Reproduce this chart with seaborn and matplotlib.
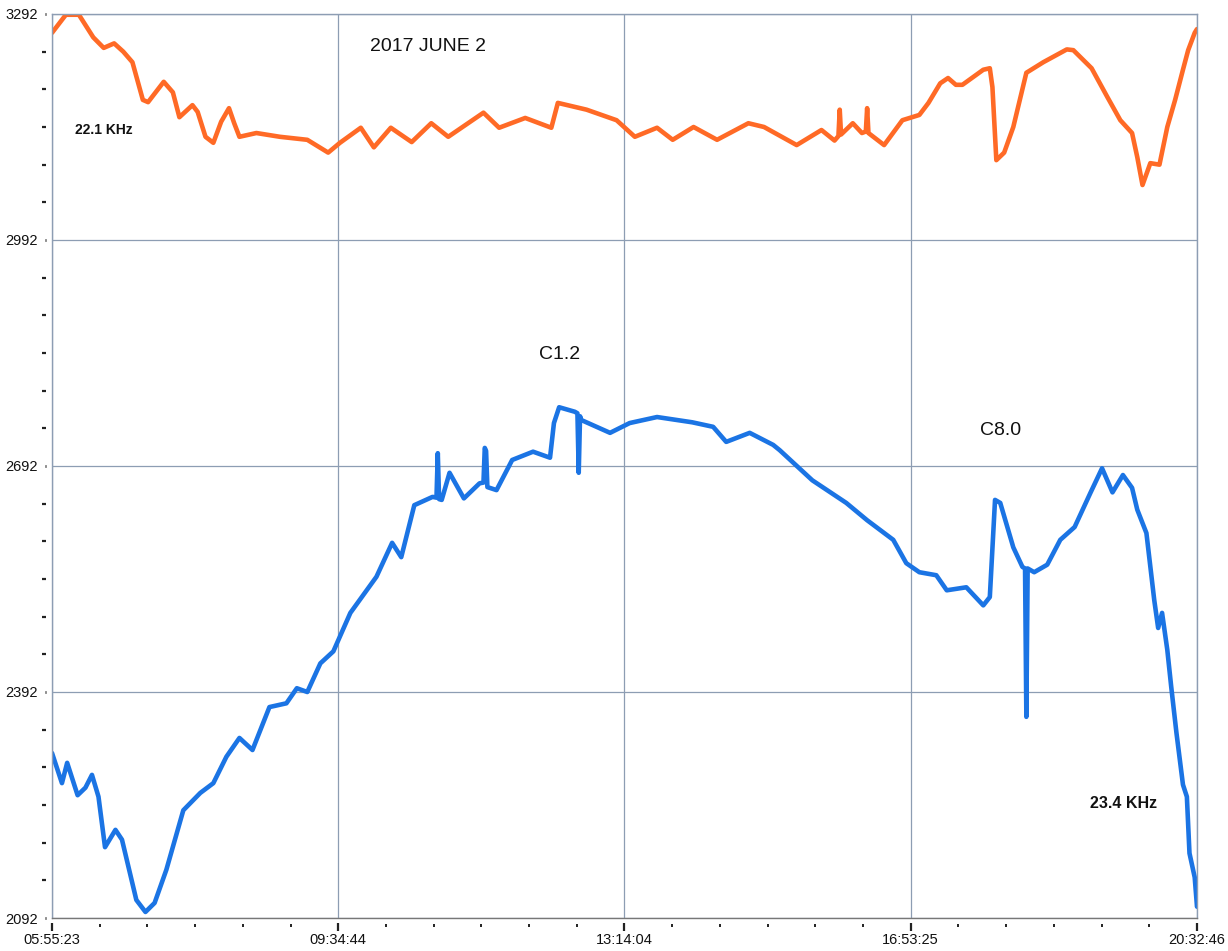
import numpy as np
import pandas as pd
import matplotlib
matplotlib.use("Agg")
import matplotlib.pyplot as plt
import matplotlib.dates as mdates
from matplotlib.markers import MarkerStyle
from matplotlib.path import Path
import seaborn as sns

DAY = "2017-06-02"

# 22.1 kHz VLF signal (upper trace)
t_22 = ["05:55:23", "06:06", "06:16", "06:27", "06:35", "06:43", "06:50", "06:57",
        "07:05", "07:09", "07:21", "07:28", "07:33", "07:43", "07:47", "07:53",
        "07:59", "08:05", "08:11", "08:15", "08:19", "08:32", "08:50", "09:11",
        "09:27", "09:36", "09:52", "10:02", "10:15", "10:31", "10:46", "10:59",
        "11:26", "11:38", "11:58", "12:18", "12:23", "12:45", "13:08", "13:22",
        "13:39", "13:51", "14:07", "14:25", "14:49", "15:01", "15:26", "15:45",
        "15:55", "15:58", "15:59", "16:00", "16:09", "16:16", "16:19", "16:20",
        "16:21", "16:33", "16:47", "17:00", "17:07", "17:16", "17:22", "17:28",
        "17:33", "17:49", "17:54", "17:56", "17:59", "18:05", "18:12", "18:22",
        "18:35", "18:53", "18:58", "19:12", "19:24", "19:34", "19:43", "19:47",
        "19:51", "19:57", "20:04", "20:10", "20:16", "20:22", "20:26", "20:31",
        "20:32:46"]
v_22 = [3267, 3291, 3291, 3261, 3247, 3253, 3242, 3228,
        3178, 3175, 3202, 3188, 3155, 3171, 3162, 3129,
        3121, 3149, 3167, 3147, 3129, 3134, 3129, 3125,
        3108, 3121, 3141, 3115, 3141, 3122, 3147, 3129,
        3161, 3141, 3154, 3141, 3174, 3165, 3151, 3129,
        3141, 3125, 3142, 3125, 3147, 3142, 3118, 3138,
        3124, 3130, 3165, 3132, 3147, 3134, 3136, 3167,
        3134, 3118, 3151, 3158, 3174, 3200, 3207, 3198,
        3198, 3218, 3220, 3195, 3098, 3108, 3142, 3214,
        3228, 3245, 3244, 3220, 3182, 3151, 3134, 3102,
        3065, 3094, 3092, 3142, 3178, 3218, 3244, 3267,
        3272]

# 23.4 kHz VLF signal (lower trace)
t_23 = ["05:55:23", "06:03", "06:07", "06:15", "06:21", "06:26", "06:31", "06:36",
        "06:44", "06:49", "07:00", "07:07", "07:14", "07:23", "07:36", "07:49",
        "07:59", "08:09", "08:19", "08:29", "08:42", "08:55", "09:03", "09:11",
        "09:21", "09:31", "09:44", "10:04", "10:16", "10:23", "10:33", "10:47",
        "10:50", "10:51", "10:52", "10:54", "11:00", "11:11", "11:23", "11:26",
        "11:27", "11:28", "11:29", "11:36", "11:48", "12:04", "12:17", "12:20",
        "12:24", "12:36", "12:38", "12:39", "12:40", "12:41", "13:03", "13:18",
        "13:39", "14:06", "14:22", "14:32", "14:50", "15:08", "15:13", "15:38",
        "16:04", "16:20", "16:40", "16:50", "17:00", "17:13", "17:21", "17:36",
        "17:49", "17:54", "17:58", "18:02", "18:12", "18:19", "18:21", "18:22",
        "18:23", "18:28", "18:38", "18:48", "18:59", "19:11", "19:20", "19:28",
        "19:36", "19:43", "19:47", "19:54", "20:00", "20:03", "20:06", "20:10",
        "20:13", "20:17", "20:22", "20:25", "20:27", "20:31", "20:32:46"]
v_23 = [2311, 2271, 2298, 2255, 2265, 2282, 2253, 2186,
        2209, 2196, 2116, 2100, 2112, 2156, 2235, 2258,
        2271, 2306, 2331, 2315, 2372, 2377, 2397, 2392,
        2430, 2446, 2497, 2545, 2590, 2571, 2640, 2651,
        2650, 2709, 2648, 2647, 2683, 2649, 2669, 2670,
        2716, 2712, 2664, 2660, 2700, 2711, 2703, 2749,
        2770, 2764, 2762, 2683, 2758, 2753, 2736, 2749,
        2757, 2750, 2744, 2724, 2736, 2720, 2713, 2673,
        2643, 2620, 2594, 2563, 2551, 2547, 2527, 2531,
        2507, 2518, 2647, 2643, 2584, 2558, 2556, 2359,
        2556, 2551, 2561, 2594, 2611, 2656, 2689, 2657,
        2680, 2663, 2634, 2603, 2514, 2477, 2497, 2448,
        2399, 2338, 2269, 2253, 2178, 2146, 2107]

y_tick_values = [2092, 2392, 2692, 2992, 3292]
x_tick_labels = ["05:55:23", "09:34:44", "13:14:04", "16:53:25", "20:32:46"]


def stamp(times):
    return [pd.Timestamp(f"{DAY} {t}") for t in times]


df = pd.concat([
    pd.DataFrame({"time": stamp(t_22), "signal": v_22, "band": "22.1 KHz"}),
    pd.DataFrame({"time": stamp(t_23), "signal": v_23, "band": "23.4 KHz"}),
], ignore_index=True)

sns.set_style("white")
plt.rcParams["font.family"] = ["Liberation Sans", "DejaVu Sans"]

fig = plt.figure(figsize=(12.28, 9.51), dpi=100)
ax = fig.add_axes([0.04235, 0.0347, 0.93241, 0.95058])

sns.lineplot(data=df, x="time", y="signal", hue="band",
             palette={"22.1 KHz": "#ff6a26", "23.4 KHz": "#1b74e4"},
             estimator=None, sort=False, lw=3.3, legend=False, ax=ax)
for ln in ax.lines:
    ln.set_solid_joinstyle("round")

# axes ranges and ticks
major_num = mdates.date2num(stamp(x_tick_labels))
minor_num = np.concatenate([np.linspace(a, b, 7)[1:-1]
                            for a, b in zip(major_num[:-1], major_num[1:])])
ax.set_xlim(major_num[0], major_num[-1])
ax.set_xticks(major_num, x_tick_labels)
ax.set_xticks(minor_num, minor=True)
ax.set_ylim(y_tick_values[0], y_tick_values[-1])
ax.set_yticks(y_tick_values, [str(v) for v in y_tick_values])
ax.set_yticks(np.arange(y_tick_values[0], y_tick_values[-1] + 1, 50), minor=True)
ax.set_xlabel("")
ax.set_ylabel("")

ax.grid(which="major", color="#8d9db3", lw=0.9)
ax.grid(which="minor", visible=False)
for side, s in ax.spines.items():
    s.set_visible(True)
    s.set_linewidth(1.0)
    s.set_color("#8d9db3" if side in ("left", "right", "top") else "#777777")

ax.tick_params(axis="both", which="both", length=0, labelsize=10.5,
               labelcolor="#111111")
ax.tick_params(axis="y", pad=10)
ax.tick_params(axis="x", pad=11)

# annotations
ax.text(0.328, 0.9635, "2017 JUNE 2", transform=ax.transAxes, fontsize=14,
        ha="center", va="center", color="#111111")
ax.text(0.0454, 0.8717, "22.1 KHz", transform=ax.transAxes, fontsize=10,
        fontweight="bold", ha="center", va="center", color="#111111")
ax.text(0.4437, 0.6228, "C1.2", transform=ax.transAxes, fontsize=14,
        ha="center", va="center", color="#111111")
ax.text(0.828, 0.5398, "C8.0", transform=ax.transAxes, fontsize=14,
        ha="center", va="center", color="#111111")
ax.text(0.936, 0.1272, "23.4 KHz", transform=ax.transAxes, fontsize=11.5,
        fontweight="bold", ha="center", va="center", color="#111111")

fig.canvas.draw()


def style_ticks(ticks, verts, size, width):
    marker = MarkerStyle(Path(verts))
    for tk in ticks:
        ln = tk.tick1line
        ln.set_marker(marker)
        ln.set_markersize(size)
        ln.set_markeredgewidth(width)
        ln.set_markeredgecolor("#222222")
        ln.set_visible(True)


# short tick marks set slightly away from the axis lines
style_ticks(ax.yaxis.get_major_ticks(), [(-1.0, 0.0), (-0.8, 0.0)], 10, 2.0)
style_ticks(ax.yaxis.get_minor_ticks(), [(-1.0, 0.0), (-0.6, 0.0)], 14.4, 1.6)
style_ticks(ax.xaxis.get_major_ticks(), [(0.0, -1.0), (0.0, -0.38)], 18.8, 1.6)
style_ticks(ax.xaxis.get_minor_ticks(), [(0.0, -1.0), (0.0, -0.66)], 13, 1.4)

fig.savefig("out.png", dpi=100)
